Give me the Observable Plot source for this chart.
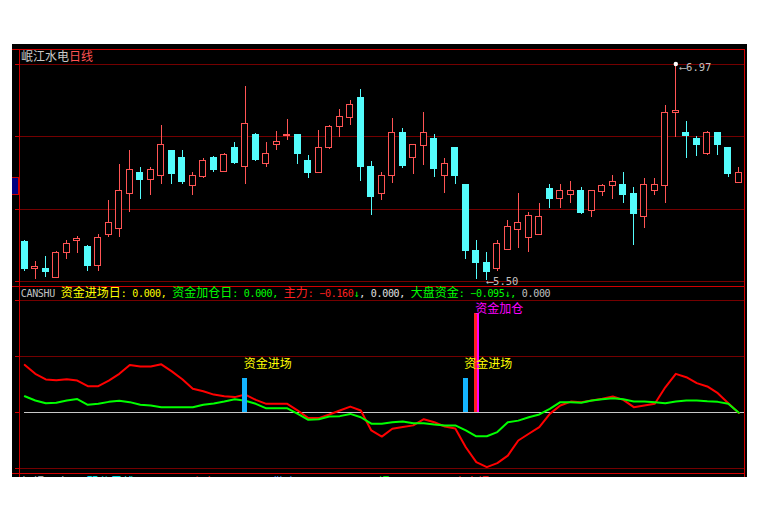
<!DOCTYPE html>
<html lang="zh-CN">
<head>
<meta charset="utf-8">
<title>岷江水电 日线</title>
<script src="https://cdn.jsdelivr.net/npm/d3@7"></script>
<script src="https://cdn.jsdelivr.net/npm/@observablehq/plot@0.6"></script>
<style>
  html, body { margin: 0; padding: 0; background: #fff; }
  body { width: 760px; height: 522px; position: relative; overflow: hidden; }
  #screen { position: absolute; left: 12px; top: 44px; width: 735px; height: 433px; background: #000; overflow: hidden; }
  #screen svg { position: absolute; left: 0; background: transparent !important; max-width: none; }
  .hline, .vline { position: absolute; background: #d00000; }
  .hline { left: 0; width: 733px; height: 1px; }
  .vline { top: 5px; width: 1px; height: 428px; }
  .row { position: absolute; white-space: pre; line-height: 12px; height: 12px; }
  .row span { display: inline-block; height: 12px; line-height: 12px; }
  .cjk { font: 12px "Noto Sans CJK SC", sans-serif; }
  .asc { font: 10px "DejaVu Sans Mono", monospace; letter-spacing: -0.3px; }
  #marker { position: absolute; left: 0; top: 133px; width: 6px; height: 16px; background: #000080; border: 1px solid #d00000; border-left: none; }
</style>
</head>
<body>
<div id="screen"></div>
<script>
// Daily candles, oldest first
const open = [
  5.76, 5.58, 5.58, 5.52, 5.69, 5.77, 5.73, 5.60, 5.81, 5.85,
  6.09, 6.23, 6.18, 6.21, 6.38, 6.33, 6.14, 6.20, 6.33, 6.24,
  6.40, 6.27, 6.49, 6.29, 6.42, 6.48, 6.49, 6.31, 6.23, 6.40,
  6.54, 6.60, 6.74, 6.27, 6.09, 6.21, 6.50, 6.33, 6.41, 6.46,
  6.21, 6.40, 6.15, 5.70, 5.62, 5.58, 5.71, 5.84, 5.79, 5.81,
  6.12, 6.05, 6.08, 6.11, 5.97, 6.10, 6.14, 6.15, 6.09, 5.93,
  6.11, 6.14, 6.64, 6.50, 6.46, 6.36, 6.50, 6.40, 6.16
];
const high = [
  5.77, 5.63, 5.66, 5.70, 5.77, 5.80, 5.74, 5.81, 6.04, 6.29,
  6.38, 6.27, 6.27, 6.55, 6.38, 6.38, 6.23, 6.33, 6.34, 6.36,
  6.44, 6.82, 6.50, 6.44, 6.51, 6.59, 6.49, 6.35, 6.52, 6.55,
  6.66, 6.72, 6.80, 6.31, 6.23, 6.60, 6.53, 6.42, 6.64, 6.49,
  6.33, 6.40, 6.15, 5.77, 5.69, 5.77, 5.91, 6.09, 5.96, 6.02,
  6.15, 6.15, 6.17, 6.13, 6.11, 6.15, 6.21, 6.23, 6.13, 6.19,
  6.19, 6.69, 6.97, 6.58, 6.48, 6.51, 6.50, 6.40, 6.27
];
const low = [
  5.56, 5.51, 5.52, 5.52, 5.64, 5.68, 5.56, 5.56, 5.79, 5.79,
  5.96, 6.05, 6.08, 6.15, 6.15, 6.15, 6.08, 6.19, 6.23, 6.24,
  6.29, 6.15, 6.31, 6.27, 6.38, 6.45, 6.29, 6.19, 6.23, 6.39,
  6.47, 6.55, 6.17, 5.94, 6.04, 6.16, 6.26, 6.22, 6.28, 6.20,
  6.09, 6.15, 5.64, 5.51, 5.50, 5.56, 5.71, 5.72, 5.69, 5.81,
  5.99, 5.99, 6.02, 5.95, 5.93, 6.07, 6.05, 6.02, 5.74, 5.85,
  6.08, 6.02, 6.47, 6.33, 6.34, 6.35, 6.35, 6.20, 6.16
];
const close = [
  5.58, 5.59, 5.56, 5.69, 5.75, 5.78, 5.60, 5.79, 5.89, 6.11,
  6.25, 6.18, 6.25, 6.42, 6.22, 6.17, 6.21, 6.31, 6.25, 6.35,
  6.30, 6.56, 6.32, 6.36, 6.44, 6.49, 6.36, 6.23, 6.40, 6.54,
  6.61, 6.69, 6.27, 6.07, 6.21, 6.50, 6.28, 6.42, 6.50, 6.26,
  6.29, 6.21, 5.70, 5.62, 5.56, 5.75, 5.86, 5.89, 5.94, 5.93,
  6.05, 6.11, 6.11, 5.96, 6.11, 6.14, 6.17, 6.08, 5.95, 6.15,
  6.15, 6.64, 6.65, 6.48, 6.42, 6.50, 6.42, 6.22, 6.23
];
// Price panel division levels
const priceGrid = [6.97, 6.477, 5.983, 5.49];

// CANSHU indicator: 主力 (main force) and 大盘资金 (market fund) lines
const mainForce = [
  17.0, 13.8, 11.8, 11.5, 11.9, 11.4, 9.4, 9.4, 11.4, 13.8,
  17.0, 16.4, 16.4, 17.2, 14.7, 11.9, 8.5, 7.6, 6.4, 5.8,
  5.5, 6.4, 4.5, 3.1, 3.1, 3.1, 0.7, -2.0, -2.0, -0.7,
  0.7, 2.1, 0.7, -6.4, -8.6, -5.8, -5.2, -4.6, -2.4, -3.5,
  -5.0, -5.7, -12.4, -17.7, -19.5, -18.1, -15.4, -10.0, -7.6, -5.2,
  -0.5, 2.5, 3.9, 3.7, 4.3, 4.9, 5.7, 4.5, 1.9, 2.5,
  3.1, 9.0, 13.8, 12.6, 10.5, 9.3, 6.9, 3.3, -0.160
];
const marketFund = [
  5.8, 4.3, 3.3, 3.5, 4.3, 4.8, 2.75, 3.1, 3.8, 4.2,
  3.7, 2.75, 2.5, 1.9, 1.9, 1.9, 1.9, 2.75, 3.2, 3.9,
  4.75, 4.2, 3.1, 1.5, 1.5, 1.5, -0.5, -2.6, -2.4, -1.4,
  -1.3, -0.5, -1.7, -4.0, -4.0, -3.5, -3.2, -3.8, -3.8, -4.3,
  -4.6, -4.6, -6.4, -8.5, -8.5, -7.0, -3.5, -2.9, -1.7, -0.7,
  1.3, 3.7, 3.7, 3.5, 4.3, 4.75, 5.1, 4.75, 3.9, 3.9,
  3.7, 3.3, 3.9, 4.3, 4.3, 4.0, 3.8, 3.1, -0.095
];
// Signal days (candle index) and stick heights
const entryDays = [21, 42];
const entryValues = [12, 12];
const addDays = [43];
const addValues = [35.4];
// Indicator panel division levels
const indicatorGrid = [40, 20, -20];

const UP = "#ff5454", DOWN = "#54fcfc";
const GRID = "#740000", FRAME = "#d00000";
const n = open.length;
const candles = open.map((o, i) => ({ i, o, h: high[i], l: low[i], c: close[i], up: close[i] >= o }));
const xScale = { type: "linear", domain: [0, n - 1], range: [12.3, 726.3], axis: null };
const cjkFont = "Noto Sans CJK SC";
const monoFont = "DejaVu Sans Mono";
const crisp = { shapeRendering: "crispEdges" };

const screen = document.getElementById("screen");

// ---- price panel ----
const hiIdx = d3.maxIndex(high), loIdx = d3.minIndex(low);
const pricePlot = Plot.plot({
  width: 735, height: 243,
  marginLeft: 7, marginRight: 2.5, marginTop: 19.5, marginBottom: 7,
  x: xScale,
  y: { domain: [d3.min(low), d3.max(high)], range: [236, 19.5], axis: null },
  color: { type: "identity" },
  style: { background: "transparent", overflow: "visible" },
  marks: [
    Plot.ruleY(priceGrid, { stroke: GRID, ...crisp }),
    Plot.axisY(priceGrid, { anchor: "left", tickSize: 4, stroke: FRAME, tickFormat: () => "", label: null, ...crisp }),
    Plot.ruleX(candles, { x: "i", y1: "l", y2: "h", stroke: d => d.up ? UP : DOWN, ...crisp }),
    Plot.rect(candles, {
      x1: d => d.i - 0.29, x2: d => d.i + 0.29,
      y1: d => Math.min(d.o, d.c), y2: d => Math.max(d.o, d.c),
      fill: d => d.up ? "#000" : DOWN, stroke: d => d.up ? UP : DOWN, ...crisp
    }),
    Plot.dot([hiIdx], { x: d => d, y: d => high[d], r: 2.2, fill: "#fff", stroke: null }),
    Plot.text([hiIdx], { x: d => d, y: d => high[d], text: d => "⟵" + high[d].toFixed(2),
      textAnchor: "start", dx: 4, dy: 4, fill: "#c0c0c0", fontFamily: monoFont, fontSize: 10.5 }),
    Plot.text([loIdx], { x: d => d, y: d => low[d], text: d => "⟵" + low[d].toFixed(2),
      textAnchor: "start", dx: 0, dy: 1, fill: "#c0c0c0", fontFamily: monoFont, fontSize: 10.5 })
  ]
});
pricePlot.style.top = "0px";
screen.appendChild(pricePlot);

// ---- indicator panel ----
const entries = entryDays.map((d, k) => ({ i: d, v: entryValues[k] }));
const adds = addDays.map((d, k) => ({ i: d, v: addValues[k] }));
const indPlot = Plot.plot({
  width: 735, height: 190,
  marginLeft: 7, marginRight: 2.5, marginTop: 13, marginBottom: 9,
  x: xScale,
  y: { domain: [-20, 20], range: [181, 69], axis: null },
  style: { background: "transparent", overflow: "visible" },
  marks: [
    Plot.ruleY(indicatorGrid, { stroke: GRID, ...crisp }),
    Plot.axisY(indicatorGrid.concat([0]), { anchor: "left", tickSize: 4, stroke: FRAME, tickFormat: () => "", label: null, ...crisp }),
    Plot.ruleY([0], { x1: 0, x2: n - 0.5, stroke: "#c8c8c8", ...crisp }),
    Plot.line(mainForce, { x: (d, i) => i, y: d => d, stroke: "#ff0000", strokeWidth: 2 }),
    Plot.line(marketFund, { x: (d, i) => i, y: d => d, stroke: "#00ff00", strokeWidth: 2 }),
    Plot.rect(entries, { x1: d => d.i - 0.22, x2: d => d.i + 0.22, y1: 0, y2: "v", fill: "#14b4ff", ...crisp }),
    Plot.rect(adds, { x1: d => d.i - 0.17, x2: d => d.i + 0.14, y1: 0, y2: "v", fill: "#ff2020", ...crisp }),
    Plot.rect(adds, { x1: d => d.i + 0.14, x2: d => d.i + 0.30, y1: 0, y2: "v", fill: "#ff00ff", ...crisp }),
    Plot.text(entries, { x: "i", y: "v", text: () => "资金进场", textAnchor: "start", dx: -1.5, dy: -14.5,
      fill: "#ffff00", fontFamily: cjkFont, fontSize: 12 }),
    Plot.text(adds, { x: "i", y: "v", text: () => "资金加仓", textAnchor: "start", dx: -1, dy: -4.5,
      fill: "#ff00ff", fontFamily: cjkFont, fontSize: 12 })
  ]
});
indPlot.style.top = "243px";
screen.appendChild(indPlot);

// ---- frame lines ----
function line(cls, prop, val) {
  const el = document.createElement("div");
  el.className = cls;
  el.style[prop] = val + "px";
  screen.appendChild(el);
}
line("hline", "top", 5);
line("hline", "top", 242);
line("hline", "top", 429);
line("vline", "left", 7);
line("vline", "left", 732);
const marker = document.createElement("div");
marker.id = "marker";
screen.appendChild(marker);

// ---- text rows: CJK runs at 12px, ASCII runs in a narrow monospace ----
function row(left, top, segments) {
  const div = document.createElement("div");
  div.className = "row";
  div.style.left = left + "px";
  div.style.top = top + "px";
  const re = /[\u3000-\u9fff\uff00-\uffef]+|[^\u3000-\u9fff\uff00-\uffef]+/g;
  for (const [text, color] of segments) {
    for (const run of text.match(re)) {
      const span = document.createElement("span");
      span.textContent = run;
      span.style.color = color;
      span.className = /[\u3000-\u9fff\uff00-\uffef]/.test(run) ? "cjk" : "asc";
      div.appendChild(span);
    }
  }
  screen.appendChild(div);
}
const fmt = d3.format(".3f");
const lastEntry = entryDays.includes(n - 1) ? entryValues[entryDays.indexOf(n - 1)] : 0;
const lastAdd = addDays.includes(n - 1) ? addValues[addDays.indexOf(n - 1)] : 0;
const arrow = v => (v < 0 ? "↓" : "↑");

row(9, 5.5, [["岷江水电", "#c8c8c8"], ["日线", "#ff5454"]]);
row(8.7, 242, [
  ["CANSHU ", "#c0c0c0"],
  ["资金进场日: " + fmt(lastEntry) + ", ", "#ffff00"],
  ["资金加仓日: " + fmt(lastAdd) + ", ", "#00ff00"],
  ["主力: " + fmt(mainForce[n - 1]), "#ff2020"],
  [arrow(mainForce[n - 1]), "#00ff00"],
  [", 0.000, ", "#e0e0e0"],
  ["大盘资金: " + fmt(marketFund[n - 1]), "#00ff00"],
  [arrow(marketFund[n - 1]) + ", ", "#00ff00"],
  ["0.000", "#c0c0c0"]
]);
row(8.7, 431.5, [
  ["红绿买卖 ", "#c0c0c0"],
  ["强弱分界线: 33.333, ", "#00ffff"],
  ["主力: 33.333  ", "#ff2020"],
  ["散户: 33.333  ", "#4f8fff"],
  ["买入提示: 0.000, ", "#00ff00"],
  ["卖出提示: 33.333", "#ff2020"]
]);
</script>
</body>
</html>
